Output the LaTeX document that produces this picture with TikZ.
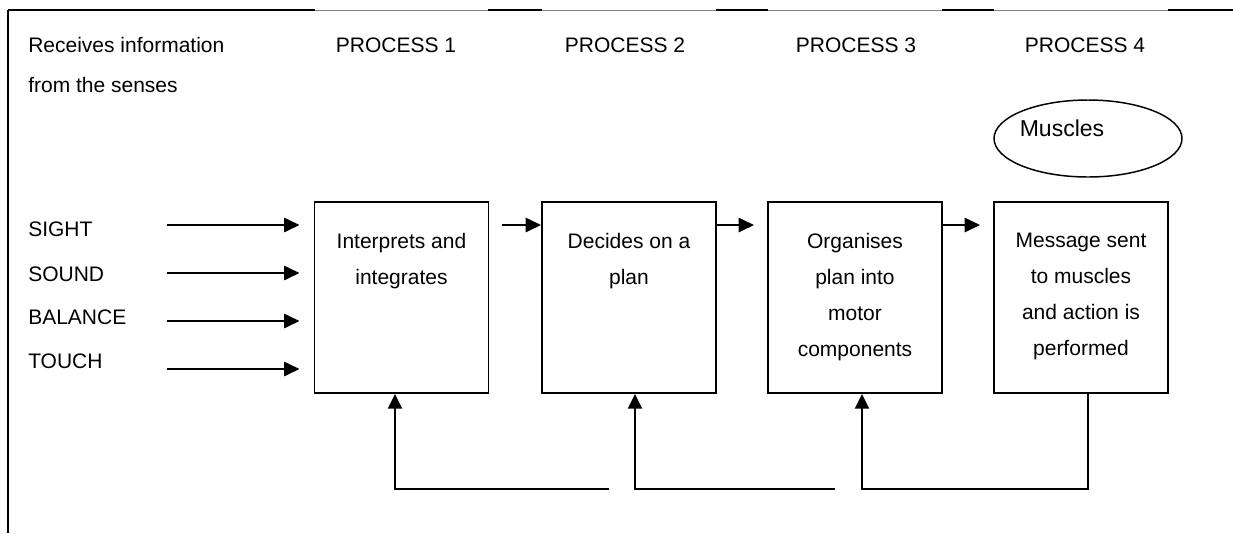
\documentclass[tikz,border=0pt]{standalone}
\usepackage{fontspec}
\setmainfont{Liberation Sans}
\usetikzlibrary{arrows.meta,shapes.geometric}

\begin{document}
\begin{tikzpicture}[x=0.75pt,y=0.75pt,yscale=-1,xscale=1,
  every node/.style={inner sep=0pt, font=\fontsize{15.75}{27}\selectfont},
  stagebox/.style={draw, line width=1.4pt, minimum width=130.5pt, minimum height=143.25pt},
  arr/.style={line width=1.9pt, -{Triangle[length=11.5pt,width=10.5pt]}},
  fb/.style={line width=1.6pt, -{Triangle[length=11pt,width=10.5pt]}},
]
\useasboundingbox (0,0) rectangle (1233,533);

%Frame lines
\draw[gray, line width=0.75pt] (8,10) -- (1233,10) ;
\draw[line width=1.3pt] (8,10) -- (315,10) ;
\draw[line width=1.3pt] (488,10) -- (542,10) ;
\draw[line width=1.3pt] (716,10) -- (768,10) ;
\draw[line width=1.3pt] (942,10) -- (994,10) ;
\draw[line width=1.3pt] (1168,10) -- (1233,10) ;
\draw[line width=1.4pt] (8,10) -- (8,533) ;

% Text Node
\node[anchor=base west] (recvA) at (28,52) {Receives information};
% Text Node
\node[anchor=base west] (recvB) at (28,92) {from the senses};
% Text Node
\node[anchor=base] (proc1) at (396,52) {PROCESS 1};
% Text Node
\node[anchor=base] (proc2) at (625,52) {PROCESS 2};
% Text Node
\node[anchor=base] (proc3) at (856,52) {PROCESS 3};
% Text Node
\node[anchor=base] (proc4) at (1085,52) {PROCESS 4};

%Shape: Ellipse
\node[draw, ellipse, line width=1.1pt, minimum width=141pt, minimum height=57.75pt] (muscles) at (1088,138.5) {};
% Text Node
\node[anchor=base, font=\fontsize{17.25}{20}\selectfont] (musclestxt) at (1062,136) {Muscles};

% Text Node
\node[anchor=base west] (sight) at (28,236) {SIGHT};
% Text Node
\node[anchor=base west] (sound) at (28,281) {SOUND};
% Text Node
\node[anchor=base west] (balance) at (28,324) {BALANCE};
% Text Node
\node[anchor=base west] (touch) at (28,368) {TOUCH};

%Shape: Square
\node[stagebox] (interp) at (401.5,297.5) {};
%Shape: Square
\node[stagebox] (decide) at (629,297.5) {};
%Shape: Square
\node[stagebox] (organ) at (855,297.5) {};
%Shape: Square
\node[stagebox] (message) at (1081,297.5) {};

% Text Node
\node[anchor=north, align=center] (interptxt) at (401.5,233) {Interprets and\\integrates};
% Text Node
\node[anchor=north, align=center] (decidetxt) at (629,233) {Decides on a\\plan};
% Text Node
\node[anchor=north, align=center] (organtxt) at (855,233) {Organises\\plan into\\motor\\components};
% Text Node
\node[anchor=north, align=center] (messagetxt) at (1081,233) {Message sent\\to muscles\\and action is\\performed};

\coordinate (s1) at (167,225);
\coordinate (s2) at (167,273);
\coordinate (s3) at (167,321);
\coordinate (s4) at (167,369);

%Straight Lines
\draw[arr, shorten >=10.5pt] (s1) -- (s1 -| interp.west) ;
\draw[arr, shorten >=10.5pt] (s2) -- (s2 -| interp.west) ;
\draw[arr, shorten >=10.5pt] (s3) -- (s3 -| interp.west) ;
\draw[arr, shorten >=10.5pt] (s4) -- (s4 -| interp.west) ;

%Straight Lines
\draw[arr, shorten <=9.75pt] (interp.east |- s1) -- (decide.west |- s1) ;
\draw[arr, shorten >=9.75pt] (decide.east |- s1) -- (organ.west |- s1) ;
\draw[arr, shorten >=9.75pt] (organ.east |- s1) -- (message.west |- s1) ;

\coordinate (f4) at (1088,489);
\coordinate (f3) at (862,489);
\coordinate (f2a) at (835,489);
\coordinate (f2) at (635,489);
\coordinate (f1a) at (609,489);
\coordinate (f1) at (395,489);

%Feedback Lines
\draw[fb] (message.south -| f4) -- (f4) -- (f3) -- (organ.south -| f3) ;
\draw[fb] (f2a) -- (f2) -- (decide.south -| f2) ;
\draw[fb] (f1a) -- (f1) -- (interp.south -| f1) ;

\end{tikzpicture}
\end{document}
